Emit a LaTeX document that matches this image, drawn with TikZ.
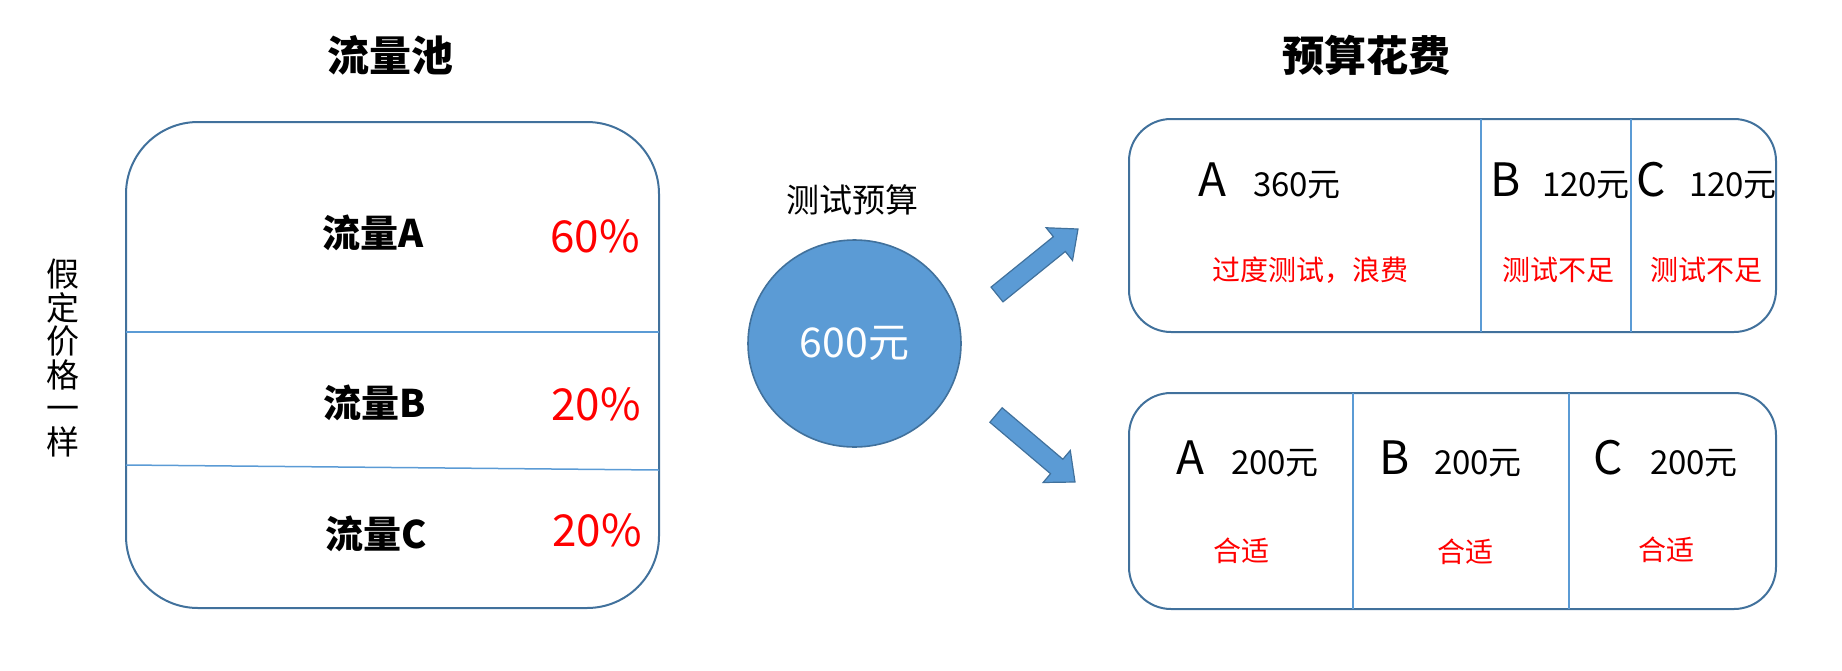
\documentclass[tikz,border=0pt]{standalone}
\usepackage{fontspec}
\newfontfamily\cjk{Noto Sans CJK SC}
\usetikzlibrary{calc,shapes.geometric}
\definecolor{boxblue}{HTML}{41719C}
\definecolor{lineblue}{HTML}{5B9BD5}
\definecolor{fillblue}{HTML}{5B9BD5}
\definecolor{redtxt}{HTML}{FF0000}
\begin{document}
\begin{tikzpicture}[x=0.5pt,y=-0.5pt,font=\cjk,
  pool/.style={draw=boxblue,line width=1pt,rounded corners=36pt,minimum width=266.5pt,minimum height=243pt,inner sep=0pt},
  budgetbox/.style={draw=boxblue,line width=1pt,rounded corners=21pt,minimum width=323.5pt,inner sep=0pt},
  divider/.style={draw=lineblue,line width=0.75pt},
  titletext/.style={font=\cjk\bfseries\fontsize{21}{24}\selectfont,inner sep=0pt},
  flow/.style={font=\cjk\bfseries\fontsize{19}{21}\selectfont,inner sep=0pt},
  pct/.style={text=redtxt,font=\cjk\fontsize{22}{25}\selectfont,inner sep=0pt},
  letter/.style={anchor=base,font=\cjk\fontsize{23}{26}\selectfont,inner sep=0pt},
  amount/.style={anchor=base,font=\cjk\fontsize{16.5}{19}\selectfont,inner sep=0pt},
  note/.style={text=redtxt,font=\cjk\fontsize{14}{16}\selectfont,inner sep=0pt},
  plain/.style={font=\cjk\fontsize{16.5}{19}\selectfont,inner sep=0pt},
  bigarrow/.style={fill=fillblue,draw=boxblue,line width=0.6pt,line join=miter},
  money/.style={ellipse,draw=boxblue,line width=0.8pt,fill=fillblue,minimum width=106.5pt,minimum height=103.5pt,inner sep=0pt,text=white,font=\cjk\fontsize{20.5}{23}\selectfont}]
\useasboundingbox (0,0) rectangle (1842,670);

% titles
\node[titletext] (t1) at (390,55) {流量池};
\node[titletext] (t2) at (1366,55) {预算花费};

% vertical note
\node[align=center,inner sep=0pt,font=\cjk\fontsize{16.5}{16.8}\selectfont] (vert) at (63,358) {假\\定\\价\\格\\一\\样};

% traffic pool
\node[pool] (pool) at (392.5,365) {};
\draw[divider] (126,332) -- (659,332);
\draw[divider] (126,465) -- (659,470);
\node[flow] (fa) at (373,233) {流量A};
\node[pct] (pa) at (595,236) {60\%};
\node[flow] (fb) at (375,403) {流量B};
\node[pct] (pb) at (596,404) {20\%};
\node[flow] (fc) at (376,534) {流量C};
\node[pct] (pc) at (597,530) {20\%};

% budget circle
\node[plain] (blabel) at (852,200) {测试预算};
\node[money] (circ) at (854.5,343.5) {600元};

% arrows
\coordinate (ta) at (997,294.5);
\coordinate (ha) at (1078,229);
\coordinate (ba) at ($(ha)!12pt!(ta)$);
\draw[bigarrow] ($(ta)!4.75pt!90:(ha)$) -- ($(ba)!4.75pt!-90:(ta)$) -- ($(ba)!10.5pt!-90:(ta)$) -- (ha)
  -- ($(ba)!10.5pt!90:(ta)$) -- ($(ba)!4.75pt!90:(ta)$) -- ($(ta)!4.75pt!-90:(ha)$) -- cycle;
\coordinate (tb) at (996,415);
\coordinate (hb) at (1075,482);
\coordinate (bb) at ($(hb)!12pt!(tb)$);
\draw[bigarrow] ($(tb)!4.75pt!90:(hb)$) -- ($(bb)!4.75pt!-90:(tb)$) -- ($(bb)!10.5pt!-90:(tb)$) -- (hb)
  -- ($(bb)!10.5pt!90:(tb)$) -- ($(bb)!4.75pt!90:(tb)$) -- ($(tb)!4.75pt!-90:(hb)$) -- cycle;

% top budget box
\node[budgetbox,minimum height=106.5pt] (topbox) at (1452.5,225.5) {};
\draw[divider] (1481,119) -- (1481,332);
\draw[divider] (1631,119) -- (1631,332);
\node[letter] (ta1) at (1212,196) {A};
\node[amount] (ta2) at (1297,196) {360元};
\node[letter] (tb1) at (1506,196) {B};
\node[amount] (tb2) at (1586,196) {120元};
\node[letter] (tc1) at (1651,196) {C};
\node[amount] (tc2) at (1733,196) {120元};
\node[note] (tn1) at (1310,270) {过度测试，浪费};
\node[note] (tn2) at (1558,270) {测试不足};
\node[note] (tn3) at (1706,270) {测试不足};

% bottom budget box
\node[budgetbox,minimum height=108pt] (botbox) at (1452.5,501) {};
\draw[divider] (1353,393) -- (1353,609);
\draw[divider] (1569,393) -- (1569,609);
\node[letter] (ba1) at (1190,474) {A};
\node[amount] (ba2) at (1275,474) {200元};
\node[letter] (bb1) at (1395,474) {B};
\node[amount] (bb2) at (1478,474) {200元};
\node[letter] (bc1) at (1608,474) {C};
\node[amount] (bc2) at (1694,474) {200元};
\node[note] (bn1) at (1241,551) {合适};
\node[note] (bn2) at (1465,552) {合适};
\node[note] (bn3) at (1666,550) {合适};
\end{tikzpicture}
\end{document}
